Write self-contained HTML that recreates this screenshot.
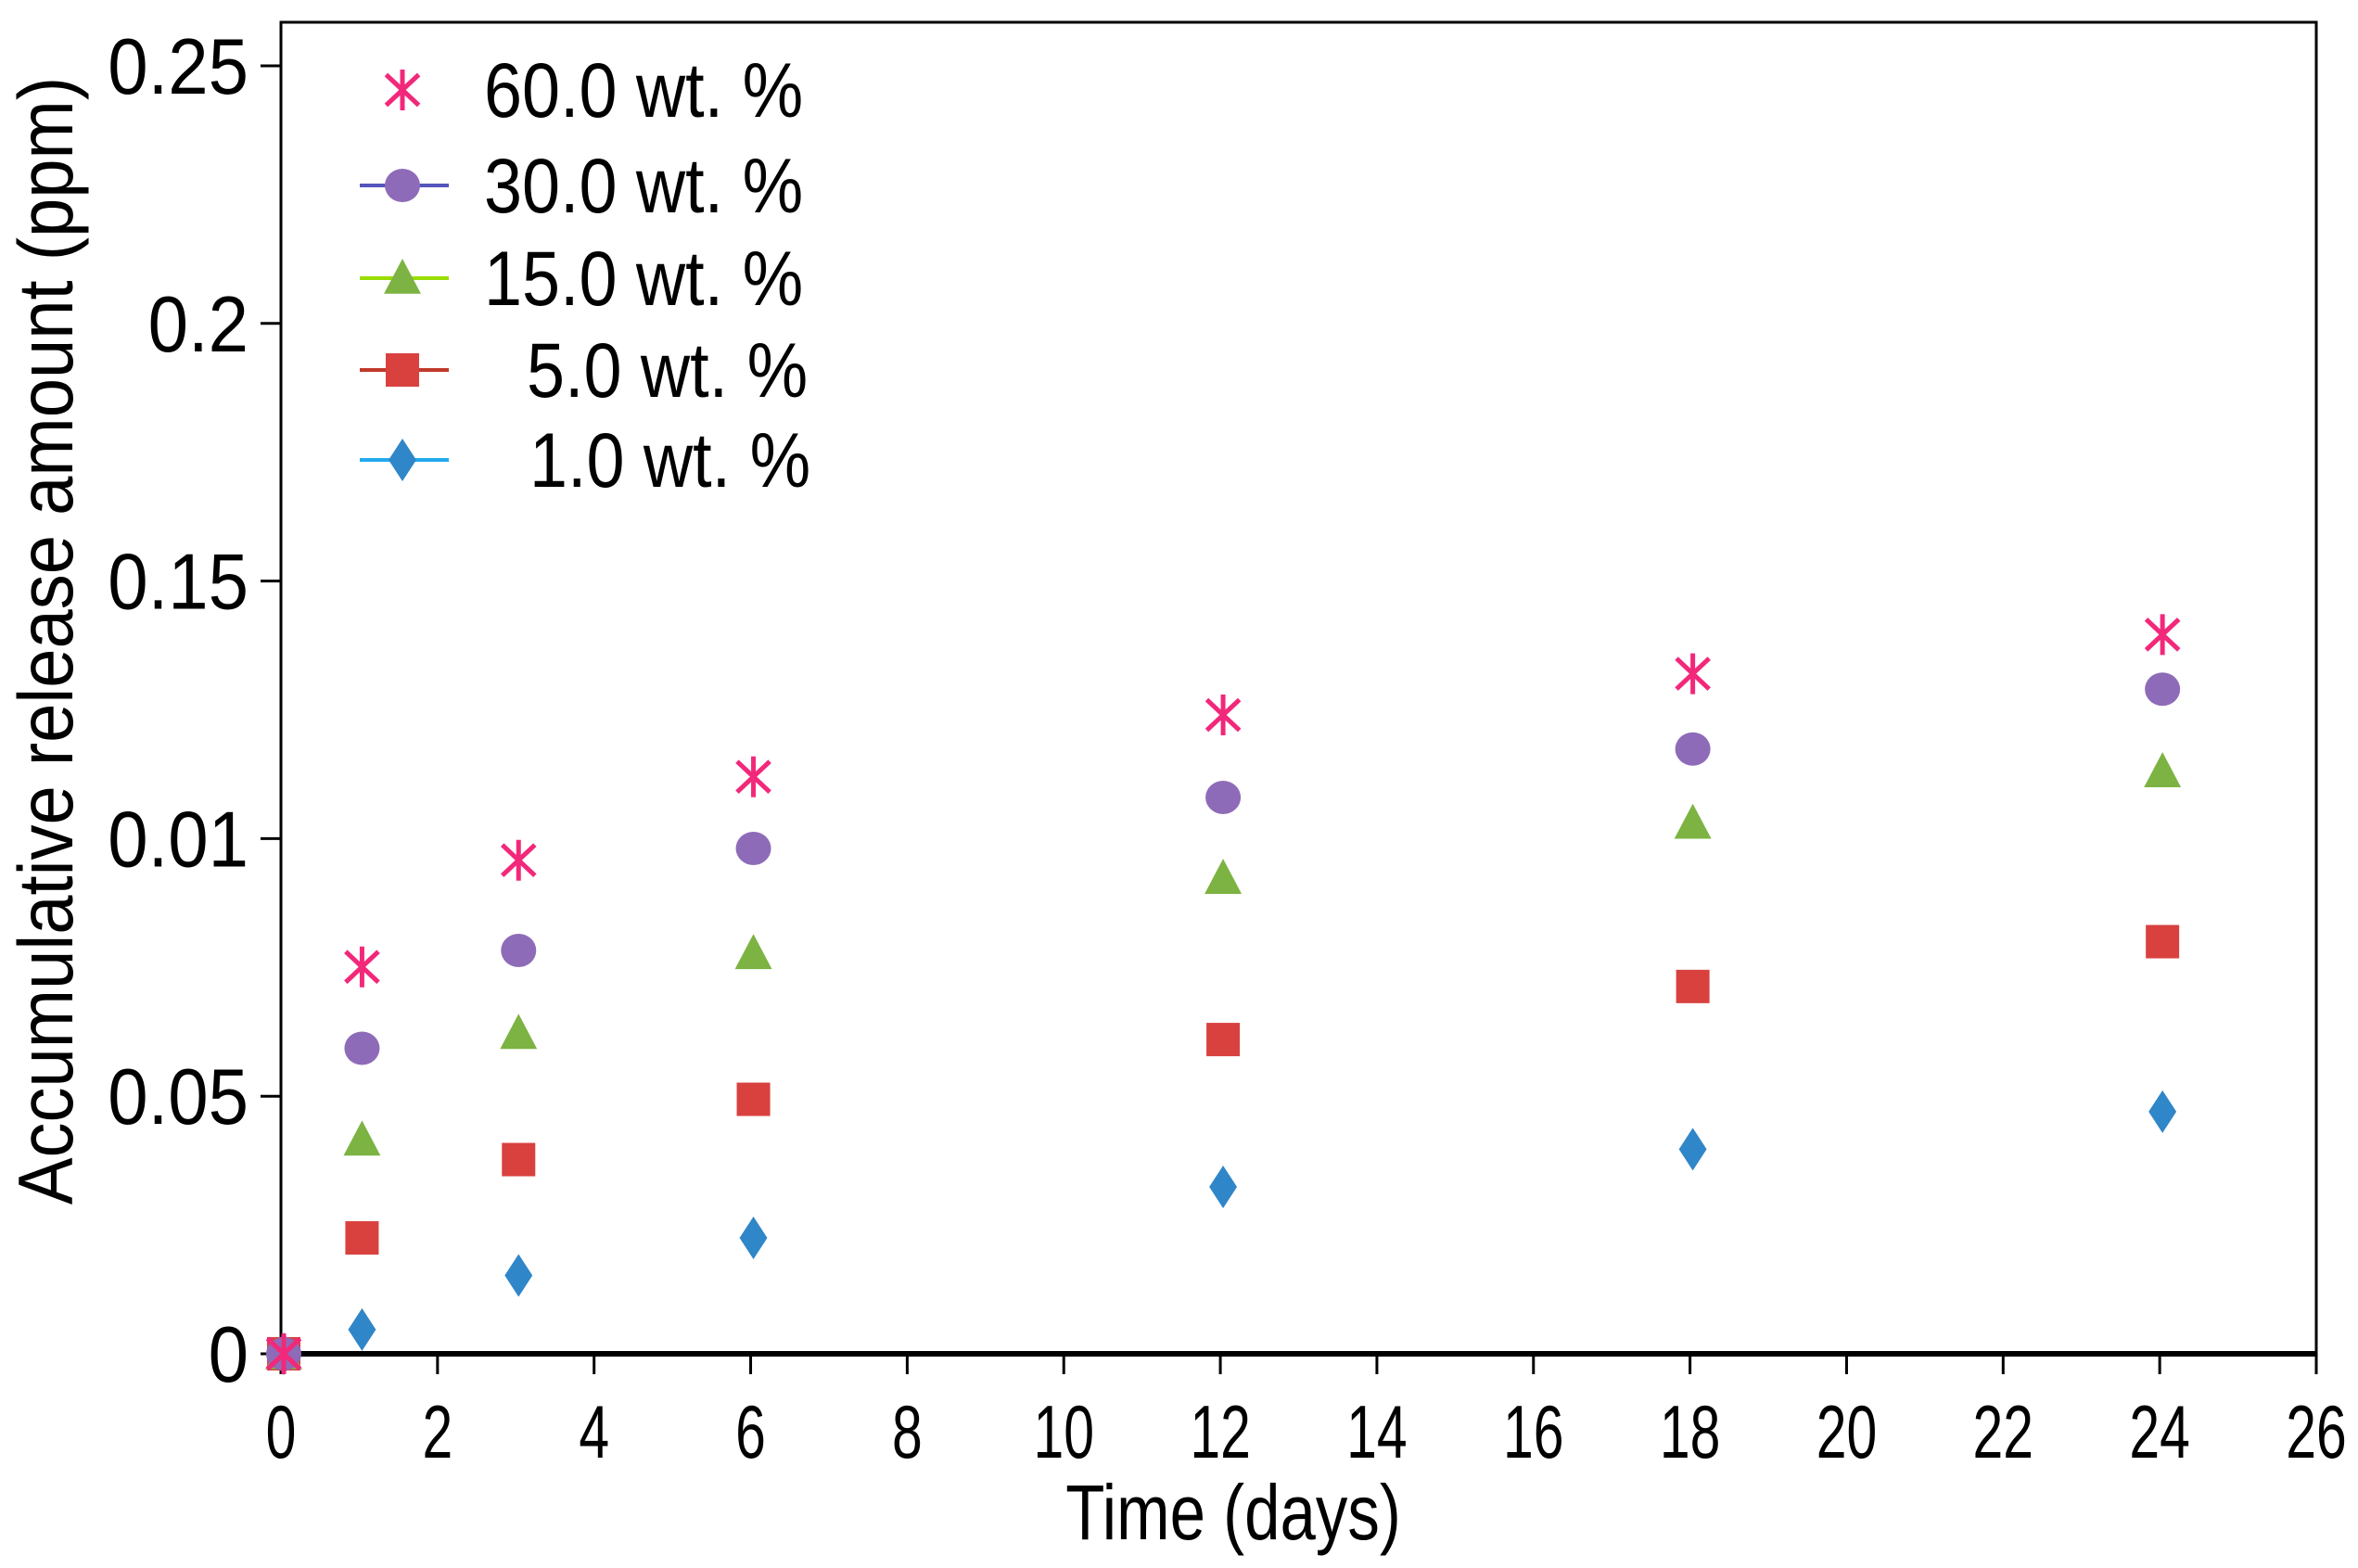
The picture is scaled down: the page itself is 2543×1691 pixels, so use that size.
<!DOCTYPE html>
<html><head><meta charset="utf-8"><style>
html,body{margin:0;padding:0;background:#fff;}
svg{display:block;font-family:"Liberation Sans",Arial,sans-serif;}
</style></head><body>
<svg id="chart" width="2543" height="1691" viewBox="0 0 2543 1691" xmlns="http://www.w3.org/2000/svg">
<g id="axes"></g>
<g id="marks"></g>
<g id="legend"></g>
<text transform="translate(1330,1660) scale(0.92,1.12)" font-size="75" text-anchor="middle">Time (days)</text>
<text transform="translate(78,691) rotate(-90) scale(1,1.1)" font-size="76" text-anchor="middle">Accumulative release amount (ppm)</text>
</svg>
<script>
const days = [0, 1, 3, 6, 12, 18, 24];
const seriesNames = ["60.0 wt. %", "30.0 wt. %", "15.0 wt. %", "5.0 wt. %", "1.0 wt. %"];
const s60 = [0, 0.0751, 0.0958, 0.112, 0.124, 0.132, 0.1396];
const s30 = [0, 0.0593, 0.0783, 0.0981, 0.108, 0.1174, 0.129];
const s15 = [0, 0.0415, 0.0622, 0.0777, 0.0923, 0.103, 0.113];
const s5 = [0, 0.0225, 0.0377, 0.0494, 0.061, 0.0713, 0.080];
const s1 = [0, 0.0047, 0.0152, 0.0225, 0.0324, 0.0397, 0.047];
const xTicks = [0,2,4,6,8,10,12,14,16,18,20,22,24,26];
const yTickValues = [0, 0.05, 0.1, 0.15, 0.2, 0.25];
const yTickLabels = ["0", "0.05", "0.01", "0.15", "0.2", "0.25"];

const NS = "http://www.w3.org/2000/svg";
const X0 = 303, X1 = 2498, Y0 = 1460, Y1 = 71, TOP = 24;
const xs = v => X0 + (v / 26) * (X1 - X0);
const ys = v => Y0 - (v / 0.25) * (Y0 - Y1);
function mk(tag, attrs, parent) {
  const e = document.createElementNS(NS, tag);
  for (const k in attrs) e.setAttribute(k, attrs[k]);
  parent.appendChild(e); return e;
}
const axes = document.getElementById('axes');
const frame = mk('rect', {x:X0, y:TOP, width:X1-X0, height:Y0-TOP, fill:'none', stroke:'#000', 'stroke-width':3}, axes);


const xl = mk('line', {x1:X0, x2:X1, y1:Y0, y2:Y0, stroke:'#000', 'stroke-width':6}, axes);


xTicks.forEach(t => {
  const l = mk('line', {x1:xs(t), x2:xs(t), y1:Y0, y2:Y0+22, stroke:'#000', 'stroke-width':3}, axes);
  
  
  const tx = mk('text', {transform:`translate(${xs(t)},1572) scale(0.95,1.3)`, 'font-size':62, 'text-anchor':'middle'}, axes);
  tx.textContent = t;
  
  
});
yTickValues.forEach((v, i) => {
  const l = mk('line', {x1:X0-22, x2:X0, y1:ys(v), y2:ys(v), stroke:'#000', 'stroke-width':3}, axes);
  
  
  const tx = mk('text', {transform:`translate(268,${ys(v)+30}) scale(1,1.1)`, 'font-size':78, 'text-anchor':'end'}, axes);
  tx.textContent = yTickLabels[i];
  
  
});

function marker(type, cx, cy, parent, scale) {
  const s = scale || 1;
  let e;
  if (type === 'star') {
    e = mk('g', {stroke:'#f2287a', 'stroke-width':5, fill:'none'}, parent);
    const r = 22*s;
    mk('line', {x1:cx, x2:cx, y1:cy-r, y2:cy+r}, e);
    mk('line', {x1:cx-r*0.8, x2:cx+r*0.8, y1:cy-r*0.75, y2:cy+r*0.75}, e);
    mk('line', {x1:cx-r*0.8, x2:cx+r*0.8, y1:cy+r*0.75, y2:cy-r*0.75}, e);
  } else if (type === 'circle') {
    e = mk('ellipse', {cx:cx, cy:cy, rx:19*s, ry:18*s, fill:'#8e6bb8'}, parent);
  } else if (type === 'tri') {
    const r = 21*s;
    e = mk('polygon', {points:`${cx},${cy-r} ${cx+r*0.95},${cy+r*0.8} ${cx-r*0.95},${cy+r*0.8}`, fill:'#7cb342'}, parent);
  } else if (type === 'square') {
    const r = 18*s;
    e = mk('rect', {x:cx-r, y:cy-r, width:2*r, height:2*r, fill:'#d9413f'}, parent);
  } else {
    const r = 23*s;
    e = mk('polygon', {points:`${cx},${cy-r} ${cx+r*0.65},${cy} ${cx},${cy+r} ${cx-r*0.65},${cy}`, fill:'#2f86c8'}, parent);
  }
  return e;
}
const marks = document.getElementById('marks');
const allSeries = [s1, s5, s15, s30, s60];
const types = ['diamond', 'square', 'tri', 'circle', 'star'];
const names = ['series-1wt', 'series-5wt', 'series-15wt', 'series-30wt', 'series-60wt'];
allSeries.forEach((arr, si) => {
  arr.forEach((v, i) => {
    const m = marker(types[si], xs(days[i]) + 3, ys(v), marks);
    
    
  });
});

const legend = document.getElementById('legend');
const legTypes = ['star', 'circle', 'tri', 'square', 'diamond'];
const legLine = [null, '#5555bb', '#99dd00', '#c0392b', '#22aaee'];
const legY = [97, 200, 300, 399, 496];
const legX = [522, 522, 522, 568, 571];
seriesNames.forEach((n, i) => {
  const g = mk('g', {}, legend);
  
  
  if (legLine[i]) mk('line', {x1:388, x2:484, y1:legY[i], y2:legY[i], stroke:legLine[i], 'stroke-width':4}, g);
  marker(legTypes[i], 434, legY[i], g, 1);
  const t = mk('text', {transform:`translate(${legX[i]},${legY[i]+29}) scale(0.97,1.1)`, 'font-size':76}, g);
  t.textContent = n;
});
</script>
</body></html>
